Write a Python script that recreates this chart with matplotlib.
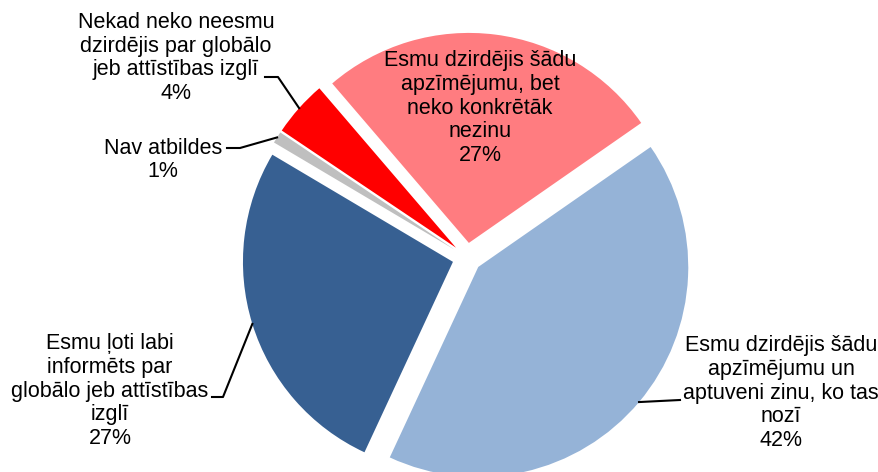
import numpy as np
import matplotlib
matplotlib.use("Agg")
import matplotlib.pyplot as plt

plt.rcParams['font.family'] = ['Liberation Sans', 'DejaVu Sans']

# slice shares (%), clockwise from the top
answers = [
    "Esmu dzirdējis šādu\napzīmējumu, bet\nneko konkrētāk\nnezinu",
    "Esmu dzirdējis šādu\napzīmējumu un\naptuveni zinu, ko tas\nnozī",
    "Esmu ļoti labi\ninformēts par\nglobālo jeb attīstības\nizglī",
    "Nav atbildes",
    "Nekad neko neesmu\ndzirdējis par globālo\njeb attīstības izglī",
]
shares = [26.6, 41.6, 26.6, 0.9, 4.3]
colors = ['#FF7C80', '#95B3D7', '#376092', '#BFBFBF', '#FF0000']

W, H = 879, 472
fig = plt.figure(figsize=(W / 100, H / 100), dpi=100)
ax = fig.add_axes([0, 0, 1, 1])

# explode is in data units here (axes are in pixels)
wedges, _ = ax.pie(shares, colors=colors, startangle=130.6, counterclock=False,
                   explode=[14.7] * 5, radius=210, center=(467, H - 257.5),
                   wedgeprops=dict(linewidth=0))
ax.set_xlim(0, W)
ax.set_ylim(0, H)
ax.set_aspect('equal')
ax.axis('off')

# label centre (image px) and leader elbow
label_pos = [(480, 108), (781, 393), (110, 391), (163, 160), (176, 58)]
elbows = [None, [(680, 400)], [(212, 397), (223, 397)],
          [(227, 148), (240, 148)], [(265, 77), (278, 77)]]

for w, txt, v, (lx, ly), el in zip(wedges, answers, shares, label_pos, elbows):
    ax.text(lx, H - ly, f"{txt}\n{v:.0f}%", ha='center', va='center',
            fontsize=15.5, linespacing=1.18, color='black')
    if el is None:
        continue
    mid = np.deg2rad((w.theta1 + w.theta2) / 2)
    cx, cy = w.center
    px, py = cx + w.r * np.cos(mid), cy + w.r * np.sin(mid)
    xs = [p[0] for p in el] + [px]
    ys = [H - p[1] for p in el] + [py]
    ax.plot(xs, ys, color='black', lw=1.5)

fig.savefig('out.png', dpi=100)
